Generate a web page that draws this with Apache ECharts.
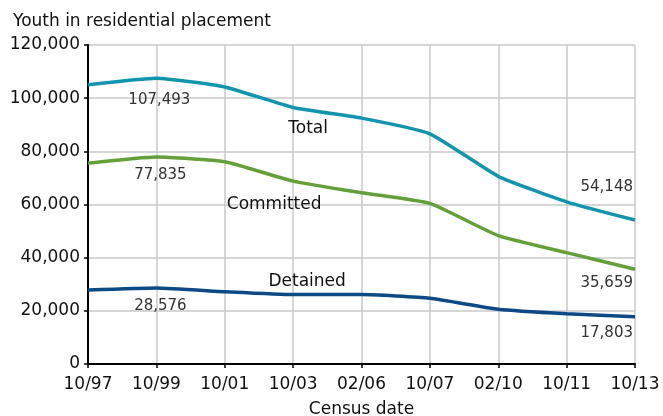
<!DOCTYPE html>
<html><head><meta charset="utf-8">
<script src="https://cdn.jsdelivr.net/npm/echarts@6/dist/echarts.min.js"></script>
<style>html,body{margin:0;padding:0;background:#fff}#c{width:663px;height:416px}</style>
</head><body><div id="c"></div>
<script>
const categories = ['10/97','10/99','10/01','10/03','02/06','10/07','02/10','10/11','10/13'];
const total = [105055, 107493, 104219, 96500, 92500, 86600, 70600, 61000, 54148];
const committed = [75500, 77835, 76100, 68800, 64400, 60400, 48300, 41900, 35659];
const detained = [27800, 28576, 27200, 26100, 26100, 24700, 20600, 18900, 17803];
const yTicks = [0, 20000, 40000, 60000, 80000, 100000, 120000];

const FONT = 'DejaVu Sans, Liberation Sans, Arial, sans-serif';
function fmt(v){ return v.toLocaleString('en-US'); }

function valLabel(text, pos, align){
  return {show: true, formatter: text, position: pos, align: align || 'center', verticalAlign: 'middle',
    color: '#333', fontSize: 15, fontFamily: FONT};
}
function nameLabel(text, pos){
  return {show: true, formatter: text, position: pos, align: 'center', verticalAlign: 'middle',
    color: '#111', fontSize: 17, fontFamily: FONT};
}
function build(values, name, peakPos, namePos, lastPos){
  const n = values.length;
  return values.map((v, i) => {
    const d = {value: v};
    if (i === 1) d.label = valLabel(fmt(v), peakPos);
    else if (i === 3) d.label = nameLabel(name, namePos);
    else if (i === n - 1) d.label = valLabel(fmt(v), lastPos, 'right');
    return d;
  });
}

const totalData = build(total, 'Total', [3, 22], [15, 21], [-2, -33]);
const committedData = build(committed, 'Committed', [4, 18], [-19, 23], [-2, 14]);
const detainedData = build(detained, 'Detained', [4, 18], [14, -13], [-2, 16]);

const chart = echarts.init(document.getElementById('c'));
const lineSeries = (name, data, color) => ({
  name, type: 'line', data, smooth: 0.15, symbol: 'circle', symbolSize: 0, showSymbol: true,
  lineStyle: {color, width: 3.5}, itemStyle: {color},
  labelLayout: {hideOverlap: false}
});
chart.setOption({
  animation: false,
  backgroundColor: '#fff',
  title: {text: 'Youth in residential placement', left: 8, top: 8,
    textStyle: {fontSize: 17, fontWeight: 'normal', color: '#111', fontFamily: FONT}},
  grid: {left: 88, right: 28, top: 45, bottom: 52, containLabel: false, outerBoundsMode: 'none'},
  xAxis: {
    type: 'category', data: categories, boundaryGap: false,
    name: 'Census date', nameLocation: 'middle', nameGap: 37,
    nameTextStyle: {fontSize: 17, color: '#111', fontFamily: FONT},
    axisLine: {lineStyle: {color: '#000', width: 2}},
    axisTick: {show: true, length: 4, lineStyle: {color: '#000', width: 1.5}},
    axisLabel: {fontSize: 17, color: '#111', fontFamily: FONT, margin: 12, interval: 0},
    splitLine: {show: true, lineStyle: {color: '#c8c8c8', width: 1.5}}
  },
  yAxis: {
    type: 'value', min: 0, max: 120000, interval: 20000,
    axisLine: {show: true, lineStyle: {color: '#000', width: 2}},
    axisTick: {show: true, length: 4, lineStyle: {color: '#000', width: 1.5}},
    axisLabel: {fontSize: 17, color: '#111', fontFamily: FONT, margin: 8,
      formatter: v => yTicks.includes(v) ? fmt(v) : ''},
    splitLine: {show: true, lineStyle: {color: '#c8c8c8', width: 1.5}}
  },
  series: [
    lineSeries('Total', totalData, '#1194ae'),
    lineSeries('Committed', committedData, '#64a03a'),
    lineSeries('Detained', detainedData, '#0b4a84')
  ]
});
</script></body></html>
